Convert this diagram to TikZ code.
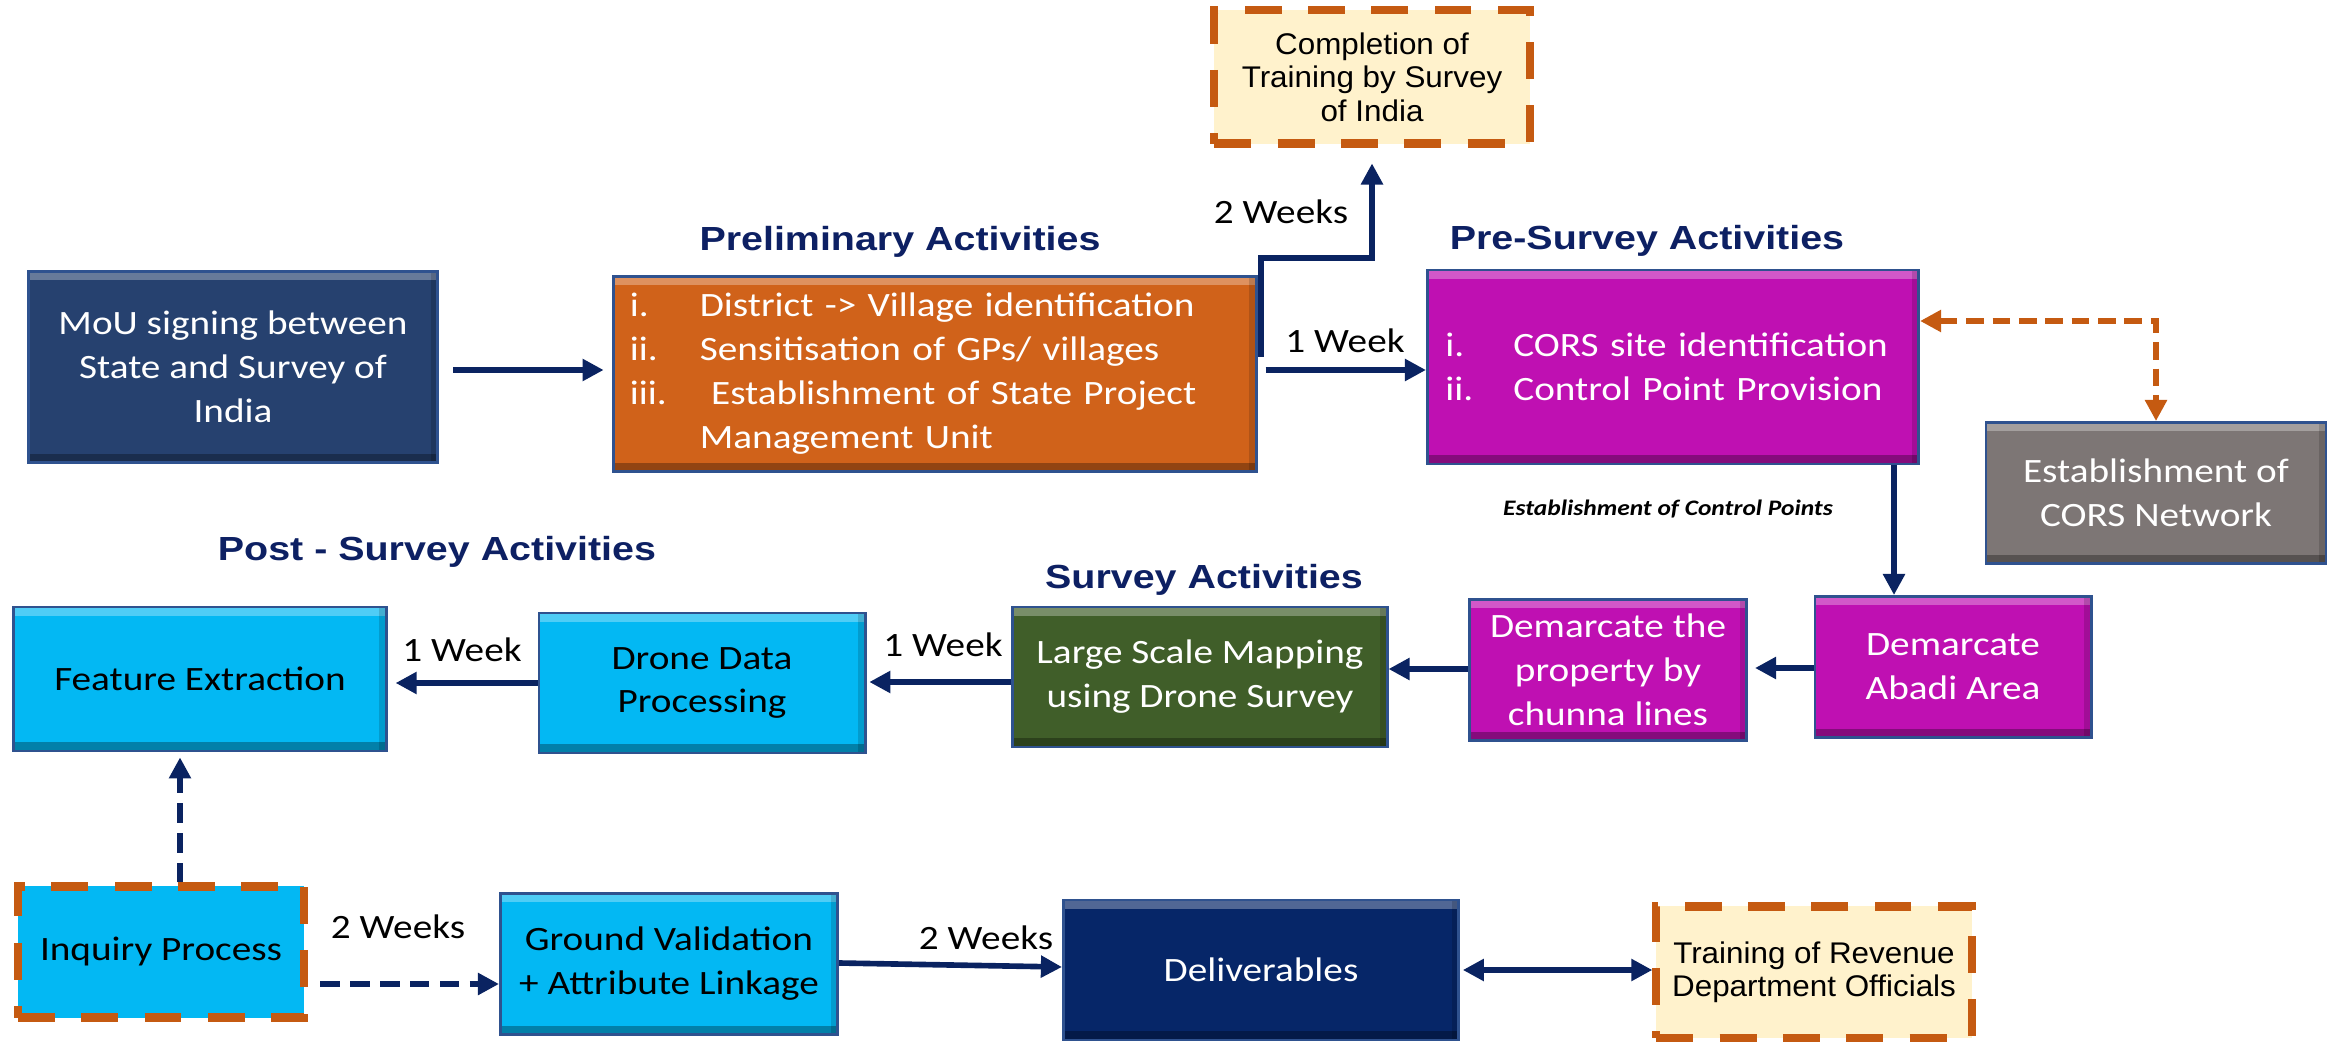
\documentclass[tikz,border=0pt]{standalone}
\usepackage{xcolor}
\usepackage{fontspec}
\setmainfont[FakeStretch=1.15]{Carlito}
\newfontfamily\headfont[FakeStretch=1.18]{Liberation Sans}
\newfontfamily\notefont[FakeStretch=1.05]{Liberation Sans}
\usetikzlibrary{arrows.meta,positioning}

\definecolor{mouBlue}{HTML}{26416F}
\definecolor{prelimOrange}{HTML}{D0621A}
\definecolor{surveyMagenta}{HTML}{BF10B2}
\definecolor{corsGray}{HTML}{7D7675}
\definecolor{mapGreen}{HTML}{405E29}
\definecolor{postCyan}{HTML}{03B8F3}
\definecolor{deliverNavy}{HTML}{062668}
\definecolor{cream}{HTML}{FFF2CC}
\definecolor{dashOrange}{HTML}{C55A11}
\definecolor{arrowNavy}{HTML}{0A2361}
\definecolor{headNavy}{HTML}{0D2063}
\definecolor{boxLine}{HTML}{2F528F}

\tikzset{
  bevel/.style={path picture={
    \fill[white,opacity=.3] (path picture bounding box.north west) rectangle ([yshift=-2.5pt]path picture bounding box.north east);
    \fill[black,opacity=.3] (path picture bounding box.south west) rectangle ([yshift=2.5pt]path picture bounding box.south east);
    \fill[black,opacity=.15] (path picture bounding box.north east) rectangle ([xshift=-2pt]path picture bounding box.south east);}},
  box/.style 2 args={draw=boxLine, line width=0.8pt, minimum width=#1, minimum height=#2,
    inner sep=0pt, align=center, text=white, font=\fontsize{9.7}{12.5}\selectfont, bevel},
  dashbox/.style 2 args={draw=dashOrange, fill=cream, line width=2.3pt, dash pattern=on 10.5pt off 7.5pt,
    minimum width=#1, minimum height=#2, inner sep=0pt, align=center, font=\notefont\fontsize{8.5}{9.5}\selectfont},
  heading/.style={text=headNavy, font=\headfont\bfseries\fontsize{9.5}{12}\selectfont},
  lbl/.style={font=\fontsize{9.7}{12}\selectfont},
  arr/.style={draw=arrowNavy, line width=1.6pt, -{Triangle[length=6pt,width=6pt]}},
  darr/.style={arr, dash pattern=on 5.5pt off 3pt},
  oarr/.style={draw=dashOrange, line width=1.6pt, dash pattern=on 5pt off 2.5pt,
    {Triangle[length=6pt,width=6pt]}-{Triangle[length=6pt,width=6pt]}}
}

\begin{document}
\begin{tikzpicture}[x=0.01cm, y=-0.01cm]
    \path[use as bounding box, fill=white] (0,0) rectangle (2327,1043);

    % top row
    \node[box={4.09cm}{1.91cm}, fill=mouBlue] (mou) at (233,367) {MoU signing between\\State and Survey of\\India};
    \node[box={6.42cm}{1.95cm}, fill=prelimOrange, text width=6.1cm, align=left] (prelim) at (935,374) {%
        \makebox[7mm][l]{i.}District -> Village identification\\
        \makebox[7mm][l]{ii.}Sensitisation of GPs/ villages\\
        \makebox[7mm][l]{iii.}\ Establishment of State Project\\
        \hspace*{7mm}Management Unit};
    \node[box={4.91cm}{1.94cm}, fill=surveyMagenta, text width=4.55cm, align=left] (presurvey) at (1673,367) {%
        \makebox[6.8mm][l]{i.}CORS site identification\\
        \makebox[6.8mm][l]{ii.}Control Point Provision};
    \node[dashbox={3.15cm}{1.33cm}] (training) at (1372,77) {Completion of\\Training by Survey\\of India};
    \node[box={3.4cm}{1.41cm}, fill=corsGray] (cors) at (2156,493) {Establishment of\\CORS Network};

    % middle row
    \node[box={2.76cm}{1.41cm}, fill=surveyMagenta] (abadi) at (1953,667) {Demarcate\\Abadi Area};
    \node[box={2.77cm}{1.41cm}, fill=surveyMagenta] (property) at (1608,670) {Demarcate the\\property by\\chunna lines};
    \node[box={3.74cm}{1.40cm}, fill=mapGreen] (mapping) at (1200,677) {Large Scale Mapping\\using Drone Survey};
    \node[box={3.26cm}{1.40cm}, fill=postCyan, text=black] (drone) at (702,683) {Drone Data\\Processing};
    \node[box={3.72cm}{1.44cm}, fill=postCyan, text=black] (feature) at (200,679) {Feature Extraction};

    % bottom row
    \node[dashbox={2.86cm}{1.31cm}, fill=postCyan, font=\fontsize{9.7}{12}\selectfont] (inquiry) at (161,952) {Inquiry Process};
    \node[box={3.37cm}{1.41cm}, fill=postCyan, text=black] (ground) at (669,964) {Ground Validation\\+ Attribute Linkage};
    \node[box={3.95cm}{1.40cm}, fill=deliverNavy] (deliver) at (1261,970) {Deliverables};
    \node[dashbox={3.15cm}{1.31cm}] (revenue) at (1814,972) {Training of Revenue\\Department Officials};

    % headings and labels
    \node[heading] (prehead) at (900,242) {Preliminary Activities};
    \node[heading] (presurveyhead) at (1647,241) {Pre-Survey Activities};
    \node[heading] (posthead) at (437,552) {Post - Survey Activities};
    \node[heading] (surveyhead) at (1204,580) {Survey Activities};
    \node[font=\bfseries\itshape\fontsize{6.3}{8}\selectfont] (cpnote) at (1668,509) {Establishment of Control Points};
    \node[lbl] (w1) at (1281,212) {2 Weeks};
    \node[lbl] (w2) at (1345,341) {1 Week};
    \node[lbl] (w3) at (943,645) {1 Week};
    \node[lbl] (w4) at (462,650) {1 Week};
    \node[lbl] (w5) at (398,927) {2 Weeks};
    \node[lbl] (w6) at (986,938) {2 Weeks};

    % connectors
    \coordinate (fork) at (1261,357);
    \coordinate (bend) at (1261,258);
    \draw[arr, shorten <=4pt, shorten >=2.5pt] (mou.east |- 0,370) -- (prelim.west |- 0,370);
    \draw[arr, shorten <=2.3pt] (prelim.east |- 0,370) -- (presurvey.west |- 0,370);
    \draw[arr, shorten >=4.5pt] (fork) -- (bend) -| (training.south);
    \draw[oarr] (presurvey.east |- 0,321) -| (cors.north);
    \draw[arr] (presurvey.south -| 1894,0) -- (abadi.north -| 1894,0);
    \draw[arr, shorten >=2pt] (abadi.west |- 0,668) -- (property.east |- 0,668);
    \draw[arr] (property.west |- 0,669) -- (mapping.east |- 0,669);
    \draw[arr, shorten >=0.8pt] (mapping.west |- 0,682) -- (drone.east |- 0,682);
    \draw[arr, shorten >=2.3pt] (drone.west |- 0,683) -- (feature.east |- 0,683);
    \draw[darr, shorten >=1.4pt] (inquiry.north -| 180,0) -- (feature.south -| 180,0);
    \draw[darr, shorten <=3.5pt] (inquiry.east |- 0,984) -- (ground.west |- 0,984);
    \draw[arr] (ground.east |- 0,963) -- (deliver.west |- 0,967);
    \draw[arr, {Triangle[length=6pt,width=6pt]}-{Triangle[length=6pt,width=6pt]}, shorten <=0.8pt] (deliver.east |- 0,970) -- (revenue.west |- 0,970);
\end{tikzpicture}
\end{document}
